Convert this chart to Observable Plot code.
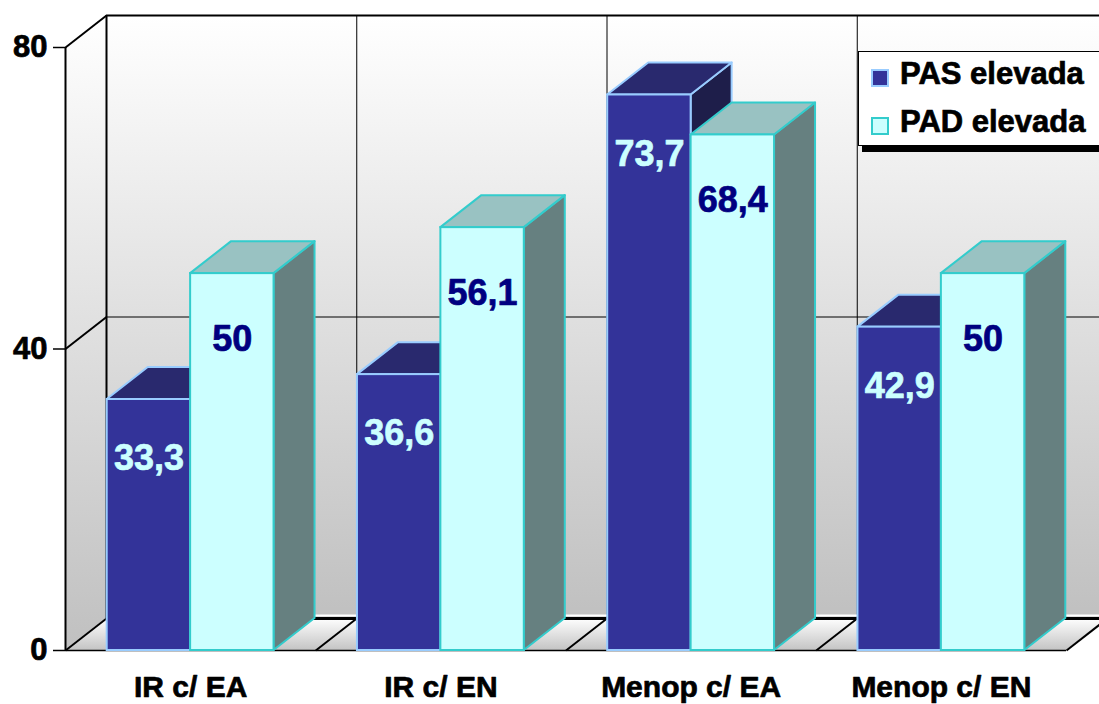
<!DOCTYPE html>
<html>
<head>
<meta charset="utf-8">
<script src="https://cdn.jsdelivr.net/npm/d3@7"></script>
<script src="https://cdn.jsdelivr.net/npm/@observablehq/plot@0.6"></script>
<style>
  body { margin: 0; background: #fff; }
  #chart { position: relative; width: 1099px; height: 704px; overflow: hidden;
           font-family: "Liberation Sans", Arial, sans-serif; font-weight: bold; }
  #chart svg text { font-weight: bold; }
  #legend { position: absolute; left: 858px; top: 51px; width: 260px; height: 93px;
            background: #fff; border: 1px solid #000; box-shadow: 4px 6px 0 #000; }
  .sw { position: absolute; width: 14px; height: 14px; border: 2px solid; }
  .lt { position: absolute; font-size: 31px; line-height: 31px; color: #000; white-space: nowrap;
        -webkit-text-stroke: 0.7px #000; }
</style>
</head>
<body>
<div id="chart"></div>
<script>
// Blood-pressure elevation (%) by group
const categories = ["IR c/ EA", "IR c/ EN", "Menop c/ EA", "Menop c/ EN"];
const seriesNames = ["PAS elevada", "PAD elevada"];
const pasValues = [33.3, 36.6, 73.7, 42.9];
const padValues = [50, 56.1, 68.4, 50];
const yTicks = [0, 40, 80];

const W = 1099, H = 704;
const M = {top: 47, right: 33, bottom: 54, left: 65};
const yMax = 80;

// depth of the 3D box and tick length, expressed in data units
const kx = (W - M.left - M.right) / categories.length;
const ky = (H - M.top - M.bottom) / yMax;
const DX = 41 / kx, DY = 32 / ky;
const TICK = 12 / kx;

const fmt = v => String(v).replace(".", ",");

function bars(values, s) {
  return values.map((v, i) => ({
    i, v,
    x1: i + 1 / 6 + s / 3,
    x2: i + 1 / 6 + (s + 1) / 3,
    label: fmt(v)
  }));
}
const sidePts = bs => bs.flatMap(b => [
  {id: b.i, x: b.x2, y1: 0, y2: b.v},
  {id: b.i, x: b.x2 + DX, y1: DY, y2: b.v + DY}
]);
const topPts = bs => bs.flatMap(b => [
  {id: b.i, y: b.v, x1: b.x1, x2: b.x2},
  {id: b.i, y: b.v + DY, x1: b.x1 + DX, x2: b.x2 + DX}
]);

const pas = bars(pasValues, 0);
const pad = bars(padValues, 1);

const style = {
  pas: {front: "#333399", top: "#29296e", side: "#1e1e4a", edge: "#99ccff", label: "#ccffff"},
  pad: {front: "#ccffff", top: "#99c2c2", side: "#668080", edge: "#33cccc", label: "#000080"}
};

function barMarks(bs, st) {
  return [
    Plot.areaY(sidePts(bs), {x: "x", y1: "y1", y2: "y2", z: "id", fill: st.side, stroke: st.edge, strokeWidth: 2}),
    Plot.areaX(topPts(bs), {y: "y", x1: "x1", x2: "x2", z: "id", fill: st.top, stroke: st.edge, strokeWidth: 2}),
    Plot.rect(bs, {x1: "x1", x2: "x2", y1: 0, y2: "v", fill: st.front, stroke: st.edge, strokeWidth: 2})
  ];
}

// heavy text: fill plus a thin outline of the same colour
const heavy = (color, size) => ({fill: color, stroke: color, strokeWidth: 0.7, fontSize: size, fontWeight: "bold"});

const boundaries = d3.range(categories.length + 1);

const svg = Plot.plot({
  width: W, height: H,
  marginTop: M.top, marginRight: M.right, marginBottom: M.bottom, marginLeft: M.left,
  style: {fontFamily: "'Liberation Sans', Arial, sans-serif", fontWeight: "bold", overflow: "hidden", background: "#fff"},
  x: {type: "linear", domain: [0, categories.length], axis: null},
  y: {domain: [0, yMax], axis: null},
  marks: [
    // back wall, left wall, floor
    Plot.rect([0], {x1: DX, x2: categories.length + DX, y1: DY, y2: yMax + DY, fill: "url(#wallGrad)"}),
    Plot.areaY([{x: 0, y1: 0, y2: yMax}, {x: DX, y1: DY, y2: yMax + DY}], {x: "x", y1: "y1", y2: "y2", fill: "url(#wallGrad)"}),
    Plot.areaX([{y: 0, x1: 0, x2: categories.length}, {y: DY, x1: DX, x2: categories.length + DX}], {y: "y", x1: "x1", x2: "x2", fill: "url(#floorGrad)"}),
    // back wall grid
    Plot.ruleY(yTicks.filter(t => t > 0 && t < yMax), {y: t => t + DY, x1: DX, x2: categories.length + DX, stroke: "#000", strokeWidth: 1}),
    Plot.ruleY([yMax], {y: t => t + DY, x1: DX, x2: categories.length + DX, stroke: "#000", strokeWidth: 2}),
    Plot.ruleX(boundaries.slice(1, -1), {x: k => k + DX, y1: DY, y2: yMax + DY, stroke: "#000", strokeWidth: 1}),
    Plot.ruleX([0], {x: k => k + DX, y1: DY, y2: yMax + DY, stroke: "#000", strokeWidth: 2}),
    Plot.ruleY([0], {y: t => t + DY, x1: DX, x2: categories.length + DX, stroke: "#fff", strokeWidth: 2, dy: -3}),
    Plot.ruleY([0], {y: t => t + DY, x1: DX, x2: categories.length + DX, stroke: "#000", strokeWidth: 3}),
    // left wall diagonals
    Plot.link(yTicks, {x1: 0, y1: t => t, x2: DX, y2: t => t + DY, stroke: "#000", strokeWidth: 2}),
    // floor separators
    Plot.link(boundaries.slice(1), {x1: k => k, y1: 0, x2: k => k + DX, y2: DY, stroke: "#000", strokeWidth: 2}),
    Plot.ruleY([0], {x1: 0, x2: categories.length, stroke: "#000", strokeWidth: 1.5}),
    Plot.ruleX([0], {y1: 0, y2: yMax, stroke: "#000", strokeWidth: 2}),
    // value axis: tick marks and labels
    Plot.ruleY(yTicks, {x1: -TICK, x2: 0, stroke: "#000", strokeWidth: 1.5}),
    Plot.text(yTicks, {x: 0, y: d => d, dx: -18, textAnchor: "end", text: d => String(d), ...heavy("#000", 31)}),
    // bars
    ...barMarks(pas, style.pas),
    ...barMarks(pad, style.pad),
    // value labels
    Plot.text(pas, {x: d => (d.x1 + d.x2) / 2, y: "v", dy: 59, text: "label", ...heavy(style.pas.label, 36)}),
    Plot.text(pad, {x: d => (d.x1 + d.x2) / 2, y: "v", dy: 66, text: "label", ...heavy(style.pad.label, 36)}),
    // category labels
    Plot.text(categories, {x: (d, i) => i + 0.5, y: 0, dy: 37, text: d => d, ...heavy("#000", 30)})
  ]
});

d3.select(svg).insert("defs", ":first-child").html(`
  <linearGradient id="wallGrad" x1="0" y1="0" x2="0" y2="1">
    <stop offset="0" stop-color="#ffffff"/>
    <stop offset="1" stop-color="#c0c0c0"/>
  </linearGradient>
  <linearGradient id="floorGrad" x1="0" y1="0" x2="0" y2="1">
    <stop offset="0" stop-color="#ffffff"/>
    <stop offset="1" stop-color="#c4c4c4"/>
  </linearGradient>`);

const chart = document.getElementById("chart");
chart.appendChild(svg);

// legend
const legend = document.createElement("div");
legend.id = "legend";
chart.appendChild(legend);
const legendItems = [
  {name: seriesNames[0], fill: style.pas.front, edge: style.pas.edge},
  {name: seriesNames[1], fill: style.pad.front, edge: style.pad.edge}
];
legendItems.forEach((it, j) => {
  const sw = document.createElement("div");
  sw.className = "sw";
  sw.style.left = "12px";
  sw.style.top = (17 + j * 48) + "px";
  sw.style.background = it.fill;
  sw.style.borderColor = it.edge;
  legend.appendChild(sw);
  const t = document.createElement("div");
  t.className = "lt";
  t.style.left = "41px";
  t.style.top = (6 + j * 48) + "px";
  t.textContent = it.name;
  legend.appendChild(t);
});
</script>
</body>
</html>
